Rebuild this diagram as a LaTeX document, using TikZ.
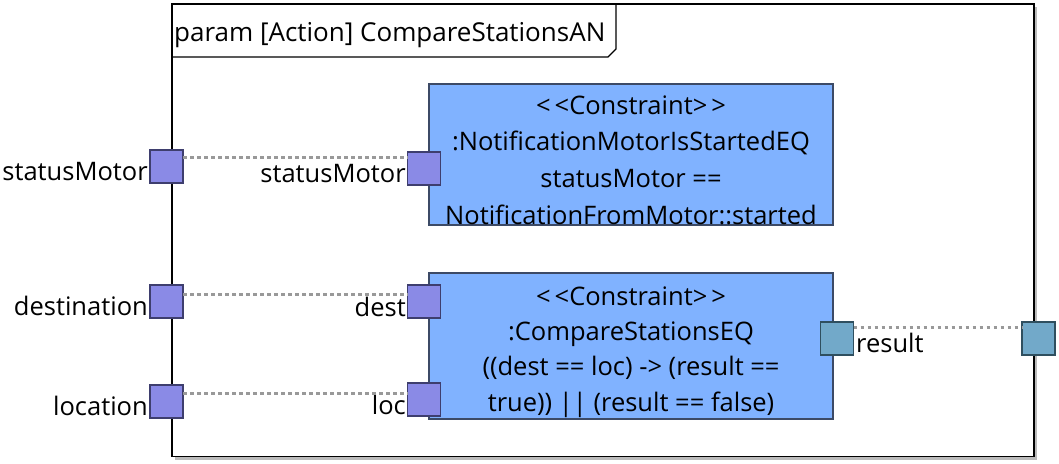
\documentclass[tikz,border=0pt]{standalone}
\usepackage{fontspec}
\setmainfont{Open Sans}
\usetikzlibrary{calc}
\definecolor{blockfill}{HTML}{80B2FF}
\definecolor{blockline}{HTML}{3C4A66}
\definecolor{portfill}{HTML}{8A8AE6}
\definecolor{portline}{HTML}{3E3E6E}
\definecolor{rportfill}{HTML}{72A9C9}
\definecolor{rportline}{HTML}{2F4F5F}
\definecolor{connc}{HTML}{999999}
\definecolor{shadowc}{HTML}{BBBBBB}
\tikzset{
  blk/.style={draw=blockline, fill=blockfill, line width=1.2pt, inner sep=0pt, outer sep=0pt},
  port/.style={draw=portline, fill=portfill, line width=1.2pt, minimum width=33pt, minimum height=33pt, inner sep=0pt, outer sep=0pt},
  rport/.style={draw=rportline, fill=rportfill, line width=1.2pt, minimum width=33pt, minimum height=33pt, inner sep=0pt, outer sep=0pt},
  conn/.style={draw=connc, line width=3pt, dash pattern=on 3.5pt off 3.5pt},
  lbl/.style={font=\fontsize{25.5}{30}\selectfont, inner sep=0pt},
  btxt/.style={font=\fontsize{25.5}{30}\selectfont, inner sep=0pt, align=center},
}
\newcommand{\stereo}[1]{<\kern4pt<#1>\kern4pt>}
\begin{document}
\begin{tikzpicture}[x=1pt,y=-1pt]
\useasboundingbox (0,0) rectangle (1059,463);
% frame with shadow
\fill[shadowc] (175,7) rectangle (1037,459.5);
\draw[black, fill=white, line width=1.4pt] (172,4) rectangle (1034,456.5);
% header tab
\draw[black, line width=1.1pt] (172,57) -- (608,57) -- (616,49) -- (616,4);
\node[lbl, anchor=west, font=\fontsize{26}{30}\selectfont] (title) at (174,35) {param [Action] CompareStationsAN};
% blocks
\node[blk, minimum width=404pt, minimum height=141pt] (b1) at (631,154.5) {};
\node[btxt] (b1t) at (631,160) {\stereo{Constraint}\\[6.7pt]:NotificationMotorIsStartedEQ\\[6.7pt]statusMotor ==\\[6.7pt]NotificationFromMotor::started};
\node[blk, minimum width=404pt, minimum height=146pt] (b2) at (631,346) {};
\node[btxt] (b2t) at (631,352) {\stereo{Constraint}\\[5.3pt]:CompareStationsEQ\\[5.3pt]((dest == loc) -> (result ==\\[5.3pt]true)) || (result == false)};
% frame ports
\node[port] (pm) at (166.5,166.5) {};
\node[port] (pd) at (166.5,301.5) {};
\node[port] (pl) at (166.5,401.5) {};
\node[rport] (pr) at (1038.5,338.5) {};
% block ports
\node[port] (qm) at (424,168.5) {};
\node[port] (qd) at (424,301.5) {};
\node[port] (ql) at (424,399.5) {};
\node[rport] (qr) at (837,338.5) {};
% labels
\node[lbl, anchor=east] (lm) at (148,172) {statusMotor};
\node[lbl, anchor=east] (ld) at (148,306) {destination};
\node[lbl, anchor=east] (ll) at (148,406) {location};
\node[lbl, anchor=east] (lqm) at (406,174) {statusMotor};
\node[lbl, anchor=east] (lqd) at (406,307) {dest};
\node[lbl, anchor=east] (lql) at (406,405) {loc};
\node[lbl, anchor=west] (lqr) at (856,343) {result};
% connectors
\draw[conn] ([yshift=9.5pt]pm.east) -- ([yshift=11.5pt]qm.west);
\draw[conn] ([yshift=7.5pt]pd.east) -- ([yshift=7.5pt]qd.west);
\draw[conn] ([yshift=8.5pt]pl.east) -- ([yshift=6.5pt]ql.west);
\draw[conn] ([yshift=11.5pt]qr.east) -- ([yshift=11.5pt]pr.west);
\end{tikzpicture}
\end{document}
